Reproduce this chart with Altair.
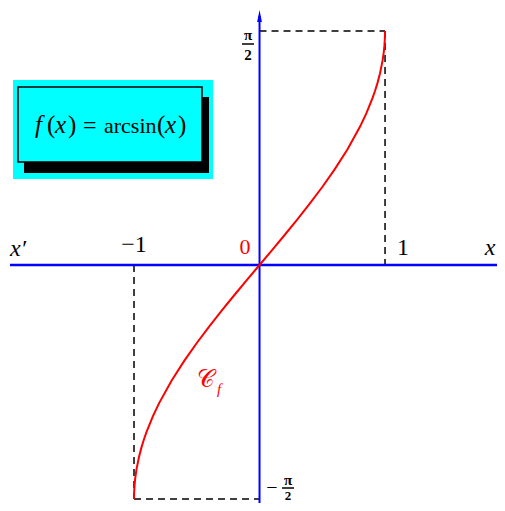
import altair as alt
import pandas as pd

# curve samples of f(x) = arcsin(x)
curve_x = [-1.0, -0.999, -0.995, -0.99, -0.98, -0.96, -0.94, -0.92, -0.9, -0.85, -0.8,
           -0.7, -0.6, -0.5, -0.4, -0.3, -0.2, -0.1, 0.0,
           0.1, 0.2, 0.3, 0.4, 0.5, 0.6, 0.7, 0.8, 0.85, 0.9, 0.92, 0.94, 0.96,
           0.98, 0.99, 0.995, 0.999, 1.0]
curve_y = [-1.5708, -1.5261, -1.4706, -1.4293, -1.3705, -1.2870, -1.2226, -1.1681, -1.1198,
           -1.0160, -0.9273, -0.7754, -0.6435, -0.5236, -0.4115, -0.3047, -0.2014, -0.1002, 0.0,
           0.1002, 0.2014, 0.3047, 0.4115, 0.5236, 0.6435, 0.7754, 0.9273, 1.0160, 1.1198,
           1.1681, 1.2226, 1.2870, 1.3705, 1.4293, 1.4706, 1.5261, 1.5708]

# dashed guide segments
seg_x1 = [0.0, 1.0, -1.0, -1.0]
seg_x2 = [1.0, 1.0, -1.0, 0.0]
seg_y1 = [1.5708, 1.5708, 0.0, -1.5708]
seg_y2 = [1.5708, 0.0, -1.5708, -1.5708]

# title pieces: f(x) = arcsin(x)
title_parts = ["f", "(", "x", ")", "=", "arcsin", "(", "x", ")"]
title_italic = [True, False, True, False, False, False, False, True, False]

W, H = 489, 495
xs = alt.Scale(domain=[-2.004, 1.892], nice=False, zero=False)
ys = alt.Scale(domain=[-1.5977, 1.7252], nice=False, zero=False)

one = pd.DataFrame({"k": [0]})
origin = pd.DataFrame({"x": [0.0], "y": [0.0]})
curve_df = pd.DataFrame({"x": curve_x, "y": curve_y, "o": list(range(len(curve_x)))})
seg_df = pd.DataFrame({"x": seg_x1, "x2": seg_x2, "y": seg_y1, "y2": seg_y2})

SERIF = "Liberation Serif"

def rect(x, x2, y, y2, fill, stroke=None, sw=0):
    kw = dict(fill=fill)
    if stroke:
        kw.update(stroke=stroke, strokeWidth=sw)
    return alt.Chart(one).mark_rect(**kw).encode(
        x=alt.value(x), x2=alt.value(x2), y=alt.value(y), y2=alt.value(y2))

def txt(s, x, y, size=22, color="black", style="normal", weight="normal", align="center",
        baseline="middle"):
    return alt.Chart(one).mark_text(
        font=SERIF, fontSize=size, color=color, fontStyle=style, fontWeight=weight,
        align=align, baseline=baseline).encode(
        x=alt.value(x), y=alt.value(y), text=alt.value(s))

cyan = rect(5, 205, 72, 171, "#00ffff")
shadow = rect(16, 201, 89, 165, "black")
inner = rect(10, 194, 79, 154, "#00ffff", "black", 1.5)

title_x = [27, 39, 47, 60, 75, 96, 149, 157, 170]
title_size = [25, 25, 25, 25, 24, 22, 25, 25, 25]
title = [txt(s, px, 125, size=sz, style="italic" if it else "normal", align="left",
             baseline="alphabetic")
         for s, it, px, sz in zip(title_parts, title_italic, title_x, title_size)]

axis_x = alt.Chart(origin).mark_rule(color="#0000ff", strokeWidth=2.5).encode(
    x=alt.value(2), x2=alt.value(W), y=alt.Y("y:Q", scale=ys, axis=None))
axis_y = alt.Chart(origin).mark_rule(color="#0000ff", strokeWidth=2).encode(
    x=alt.X("x:Q", scale=xs, axis=None), y=alt.value(8), y2=alt.value(H))
arrow = alt.Chart(origin).mark_point(
    shape="M -0.4 1 L 0 -1 L 0.4 1 Z", filled=True, color="#0000ff", size=144, opacity=1).encode(
    x=alt.X("x:Q", scale=xs, axis=None), y=alt.value(8))

dashes = alt.Chart(seg_df).mark_rule(color="black", strokeWidth=1.5, strokeDash=[7, 5]).encode(
    x=alt.X("x:Q", scale=xs, axis=None), x2="x2:Q",
    y=alt.Y("y:Q", scale=ys, axis=None), y2="y2:Q")

curve = alt.Chart(curve_df).mark_line(color="#ff0000", strokeWidth=2).encode(
    x=alt.X("x:Q", scale=xs, axis=None),
    y=alt.Y("y:Q", scale=ys, axis=None),
    order="o:Q")

labels = [
    txt("x′", 2, 241, size=24, style="italic", align="left"),
    txt("−1", 126, 237, size=24),
    txt("0", 237, 239, size=22, color="#ff0000"),
    txt("1", 395, 240, size=24),
    txt("x", 482, 240, size=24, style="italic"),
    txt("π", 240, 27, size=15, weight="bold"),
    txt("2", 240, 47, size=15, weight="bold"),
    txt("π", 280, 472, size=15, weight="bold"),
    txt("2", 280, 488, size=13, weight="bold"),
    txt("−", 264, 480, size=20),
    txt("𝒞", 198, 372, size=24, color="#ff0000"),
    txt("f", 211, 381, size=15, color="#ff0000", style="italic"),
]
bar1 = alt.Chart(one).mark_rule(color="black", strokeWidth=1.5).encode(
    x=alt.value(234), x2=alt.value(246), y=alt.value(36))
bar2 = alt.Chart(one).mark_rule(color="black", strokeWidth=1.5).encode(
    x=alt.value(274), x2=alt.value(286), y=alt.value(480))

chart = alt.layer(
    cyan, shadow, inner, *title, dashes, axis_x, axis_y, arrow, curve, bar1, bar2, *labels
).properties(
    width=W, height=H, padding=0,
    autosize=alt.AutoSizeParams(type="none"),
).configure_view(stroke=None)

chart.save("out.html", embed_options={"renderer": "svg", "actions": False})
